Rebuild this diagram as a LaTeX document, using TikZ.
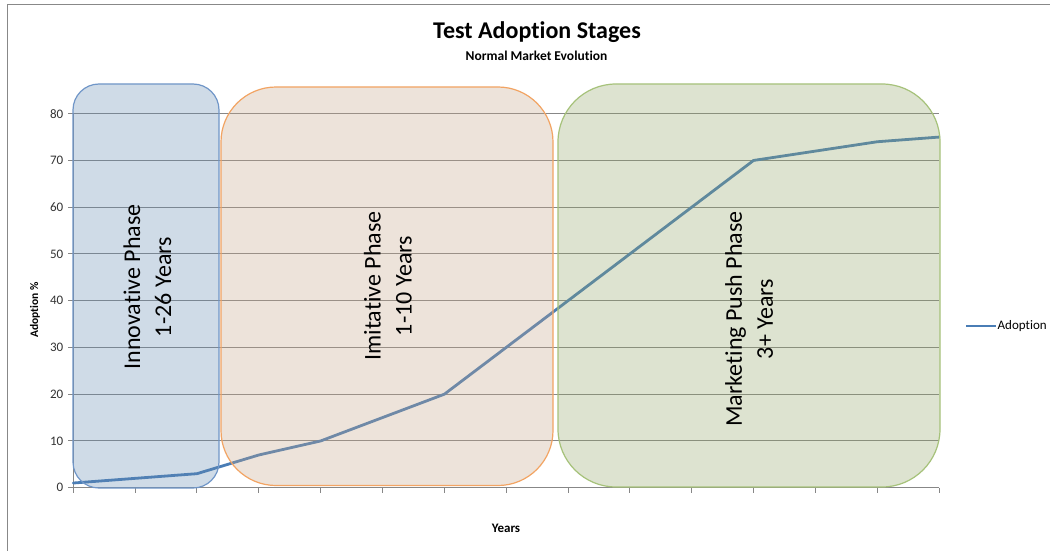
\documentclass[tikz,border=0pt]{standalone}
\usepackage{fontspec}
\setmainfont{Carlito}[Ligatures=NoCommon]
\definecolor{framegray}{HTML}{888888}
\definecolor{gridgray}{HTML}{878787}
\definecolor{labelgray}{HTML}{333333}
\definecolor{seriesblue}{HTML}{4A7DB5}
\definecolor{bluefill}{HTML}{628AB2}
\definecolor{blueedge}{HTML}{7096C8}
\definecolor{orangefill}{HTML}{C6A587}
\definecolor{orangeedge}{HTML}{F2A463}
\definecolor{greenfill}{HTML}{91A566}
\definecolor{greenedge}{HTML}{A6C27A}
\begin{document}
\begin{tikzpicture}[x=1pt,y=-1pt,
  gridline/.style={draw=gridgray,line width=1pt},
  axisline/.style={draw=gridgray,line width=1pt},
  series/.style={draw=seriesblue,line width=2.8pt,line join=round,line cap=round},
  phasebox/.style={line width=1.2pt,fill opacity=0.3},
  phasetext/.style={font=\fontsize{24}{31}\selectfont,rotate=90,align=center,inner sep=0pt},
  ticklabel/.style={font=\fontsize{13}{15}\selectfont,anchor=east,inner sep=0pt,text=labelgray},
  axistitle/.style={font=\bfseries\fontsize{11.5}{14}\selectfont,inner sep=0pt},
]
\useasboundingbox (0,0) rectangle (1050,551);
\fill[white] (0,0) rectangle (1050,551);

% chart frame
\draw[framegray,line width=1pt] (7,551) -- (7,5) -- (1050,5);

% titles
\node[anchor=base,font=\bfseries\fontsize{24}{28}\selectfont,inner sep=0pt] (title) at (537,39) {Test Adoption Stages};
\node[anchor=base,font=\bfseries\fontsize{13.5}{16}\selectfont,inner sep=0pt] (subtitle) at (536.5,60) {Normal Market Evolution};

% plot area: category index along x, percentage upwards
\begin{scope}[shift={(73.3,487.7)},x=61.84pt,y=4.675pt]
  \foreach \v in {10,20,...,80}{
    \draw[gridline] (0,\v) -- (14,\v);
  }
  \foreach \v in {0,10,...,80}{
    \draw[axisline] (-0.08,\v) -- (0,\v);
    \node[ticklabel] at (-0.16,\v) {\v};
  }
  \draw[axisline] (0,0) -- (0,80);
  \draw[axisline] (0,0) -- (14,0);
  \foreach \i in {0,...,14}{
    \draw[axisline] (\i,0) -- (\i,-1.1);
  }
  % adoption series
  \foreach \i/\v in {0/1,1/2,2/3,3/7,4/10,5/15,6/20,7/30,8/40,9/50,10/60,11/70,12/72,13/74,14/75}{
    \coordinate (p\i) at (\i,\v);
  }
  \draw[series] (p0) -- (p1) -- (p2) -- (p3) -- (p4) -- (p5) -- (p6) -- (p7)
    -- (p8) -- (p9) -- (p10) -- (p11) -- (p12) -- (p13) -- (p14);
\end{scope}

% phase overlays
\draw[phasebox,draw=blueedge,fill=bluefill,rounded corners=26pt] (73,84) rectangle (219,488);
\draw[phasebox,draw=orangeedge,fill=orangefill,rounded corners=55pt] (221,87) rectangle (553,485.5);
\draw[phasebox,draw=greenedge,fill=greenfill,rounded corners=58pt] (558,84) rectangle (940,487);

\node[phasetext] (innov) at (147.5,287) {Innovative Phase\\1-26 Years};
\node[phasetext] (imit) at (388,286) {Imitative Phase\\1-10 Years};
\node[phasetext] (mkt) at (749,319) {Marketing Push Phase\\3+ Years};

% axis titles
\node[axistitle,rotate=90] (ytitle) at (35,310) {Adoption \%};
\node[axistitle,font=\bfseries\fontsize{13}{15}\selectfont] (xtitle) at (506,528) {Years};

% legend
\coordinate (lega) at (966,326);
\coordinate (legb) at (996,326);
\draw[series,line cap=butt] (lega) -- (legb);
\node[anchor=west,inner sep=0pt,font=\fontsize{13}{15}\selectfont] (legtext) at (997.5,326) {Adoption};
\end{tikzpicture}
\end{document}
